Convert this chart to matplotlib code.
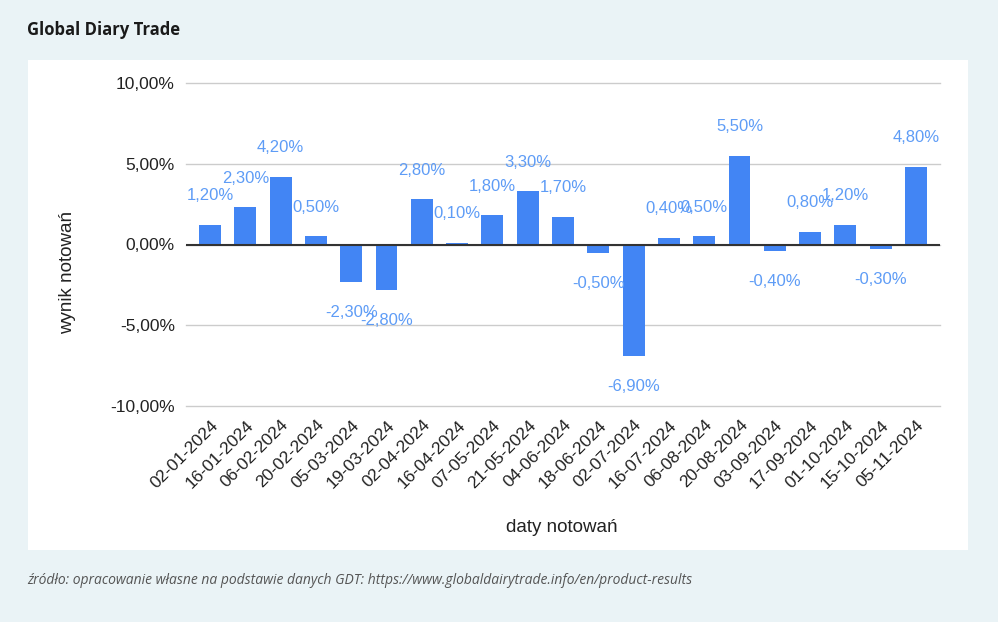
import matplotlib.pyplot as plt
from matplotlib.patches import Rectangle

# GDT auction results 2024
dates = ['02-01-2024', '16-01-2024', '06-02-2024', '20-02-2024', '05-03-2024',
         '19-03-2024', '02-04-2024', '16-04-2024', '07-05-2024', '21-05-2024',
         '04-06-2024', '18-06-2024', '02-07-2024', '16-07-2024', '06-08-2024',
         '20-08-2024', '03-09-2024', '17-09-2024', '01-10-2024', '15-10-2024',
         '05-11-2024']
changes = [1.2, 2.3, 4.2, 0.5, -2.3, -2.8, 2.8, 0.1, 1.8, 3.3,
           1.7, -0.5, -6.9, 0.4, 0.5, 5.5, -0.4, 0.8, 1.2, -0.3, 4.8]
y_ticks = [-10, -5, 0, 5, 10]

bar_color = '#4285f4'
label_color = '#5e9cf6'


def pct(v):
    return f'{v:.2f}%'.replace('.', ',')


fig = plt.figure(figsize=(9.98, 6.22), dpi=100)
fig.patch.set_facecolor('#eaf3f6')
fig.patches.append(Rectangle((28 / 998, 1 - 550 / 622), 940 / 998, 490 / 622,
                             transform=fig.transFigure, facecolor='white',
                             edgecolor='none', zorder=-1))

ax = fig.add_axes([186 / 998, 1 - 406 / 622, 754 / 998, 323 / 622])
ax.set_zorder(1)
ax.set_facecolor('white')

x = list(range(len(dates)))
ax.bar(x, changes, width=0.62, color=bar_color, zorder=3)
ax.axhline(0, color='#333333', linewidth=1.5, zorder=4)

# value labels above / below the bars
for xi, v in zip(x, changes):
    off = 21 if v >= 0 else -22
    ax.annotate(pct(v), (xi, v), xytext=(0, off), textcoords='offset points',
                ha='center', va='center', color=label_color, fontsize=12,
                family='Liberation Sans', zorder=5)

ax.set_ylim(-10, 10)
ax.set_xlim(-0.68, len(dates) - 1 + 0.68)
ax.set_yticks(y_ticks)
ax.set_yticklabels([pct(t) for t in y_ticks], fontsize=12.5, color='#222222',
                   family='Liberation Sans')
ax.yaxis.grid(True, color='#cccccc', linewidth=1, zorder=0)
for gl in ax.get_ygridlines():
    gl.set_clip_on(False)

# date labels, slanted, ending just right of each bar
ax.set_xticks(x)
ax.set_xticklabels([])
for xi, d in zip(x, dates):
    ax.annotate(d, (xi, 0), xycoords=ax.get_xaxis_transform(),
                xytext=(4, -12), textcoords='offset points', rotation=45,
                ha='right', va='center', rotation_mode='anchor',
                fontsize=12.5, color='#222222', family='Liberation Sans',
                annotation_clip=False)

ax.tick_params(axis='both', length=0)
ax.tick_params(axis='y', pad=8)
for s in ax.spines.values():
    s.set_visible(False)

fig.text(562 / 998, 1 - 528 / 622, 'daty notowań', ha='center', va='center',
         fontsize=13.5, color='#222222', family='Liberation Sans')
fig.text(68 / 998, 1 - 272 / 622, 'wynik notowań', ha='center', va='center',
         rotation=90, fontsize=13.5, color='#222222', family='Liberation Sans')

fig.text(27 / 998, 1 - 30 / 622, 'Global Diary Trade', ha='left', va='center',
         fontsize=12, fontweight='bold', color='#1a1a1a', family='Open Sans')
fig.text(27 / 998, 1 - 580 / 622,
         'źródło: opracowanie własne na podstawie danych GDT: '
         'https://www.globaldairytrade.info/en/product-results',
         ha='left', va='center', fontsize=10, style='italic', color='#555555',
         family='Open Sans')

fig.savefig('out.png', dpi=100, facecolor=fig.get_facecolor())
